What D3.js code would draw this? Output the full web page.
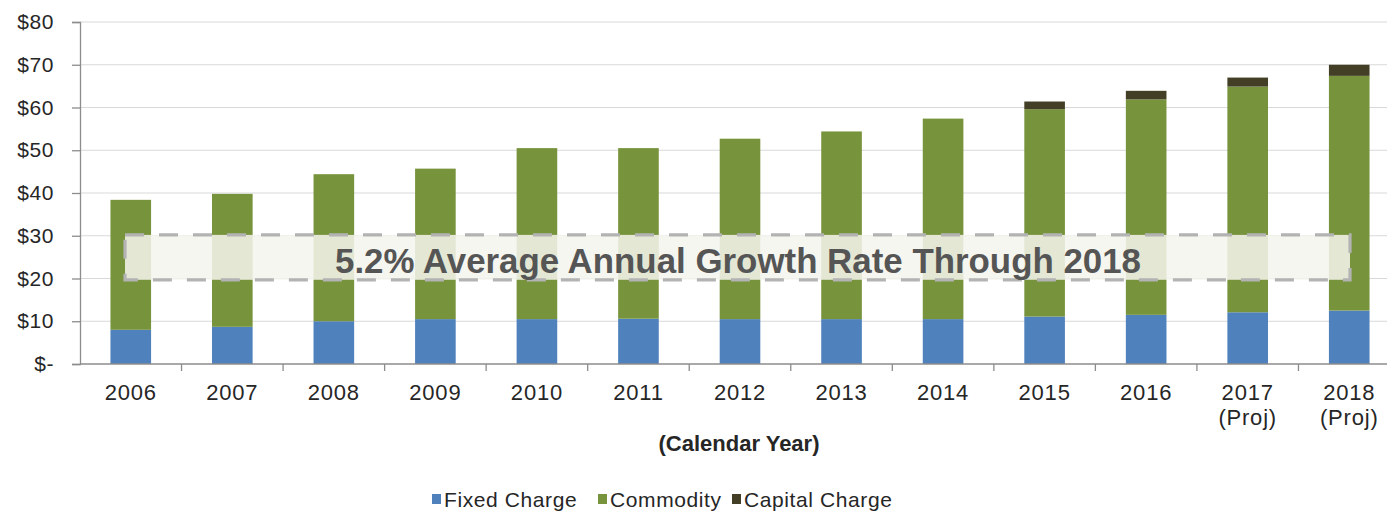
<!DOCTYPE html>
<html>
<head>
<meta charset="utf-8">
<script src="https://cdn.jsdelivr.net/npm/d3@7"></script>
<style>
  html, body { margin: 0; padding: 0; background: #fff; }
  svg { display: block; }
  text { font-family: "Liberation Sans", Arial, sans-serif; }
</style>
</head>
<body>
<svg id="chart" width="1387" height="514"></svg>
<script>
// Calendar years and the second label line used for projected years
const years = ["2006", "2007", "2008", "2009", "2010", "2011", "2012", "2013", "2014", "2015", "2016", "2017", "2018"];
const yearNotes = ["", "", "", "", "", "", "", "", "", "", "", "(Proj)", "(Proj)"];

// Series values ($)
const fixedCharge = [8.0, 8.7, 10.0, 10.5, 10.5, 10.6, 10.5, 10.5, 10.5, 11.1, 11.5, 12.1, 12.5];
const commodity = [30.4, 31.1, 34.4, 35.2, 40.0, 39.9, 42.2, 43.9, 46.9, 48.5, 50.4, 52.8, 54.9];
const capitalCharge = [0, 0, 0, 0, 0, 0, 0, 0, 0, 1.8, 2.0, 2.1, 2.6];

const seriesNames = ["Fixed Charge", "Commodity", "Capital Charge"];
const seriesColors = ["#4f81bd", "#77933c", "#433f27"];

const yTicks = [0, 10, 20, 30, 40, 50, 60, 70, 80];
const bannerText = "5.2% Average Annual Growth Rate Through 2018";
const axisTitle = "(Calendar Year)";

const svg = d3.select("#chart");

const rows = years.map((y, i) => ({
  year: y,
  "Fixed Charge": fixedCharge[i],
  "Commodity": commodity[i],
  "Capital Charge": capitalCharge[i]
}));
const stacked = d3.stack().keys(seriesNames)(rows);

const x = d3.scaleBand().domain(years).range([80, 1400]).paddingInner(0.6).paddingOuter(0.3);
const y = d3.scaleLinear().domain([0, 80]).range([364, 22]);

// Horizontal gridlines
svg.append("g")
  .selectAll("line")
  .data(yTicks.filter(d => d > 0))
  .join("line")
  .attr("x1", 80).attr("x2", 1387)
  .attr("y1", d => y(d)).attr("y2", d => y(d))
  .attr("stroke", "#d9d9d9").attr("stroke-width", 1.2);

// Stacked bars
svg.append("g")
  .selectAll("g")
  .data(stacked)
  .join("g")
  .attr("fill", (d, i) => seriesColors[i])
  .selectAll("rect")
  .data(d => d)
  .join("rect")
  .attr("x", d => x(d.data.year))
  .attr("width", x.bandwidth())
  .attr("y", d => y(d[1]))
  .attr("height", d => y(d[0]) - y(d[1]));

// Y axis
const yAxis = svg.append("g")
  .attr("transform", "translate(80,0)")
  .call(d3.axisLeft(y).tickValues(yTicks).tickSize(8).tickPadding(18)
    .tickFormat(d => d === 0 ? "$-" : "$" + d));
yAxis.select(".domain").attr("stroke", "#8c8c8c").attr("stroke-width", 1.3);
yAxis.selectAll(".tick line").attr("stroke", "#8c8c8c").attr("stroke-width", 1.3);
yAxis.selectAll(".tick text")
  .attr("fill", "#262626")
  .style("font-size", "21px")
  .style("letter-spacing", "0.6px");

// X axis: ticks at band boundaries
const boundaries = years.map(d => x(d) - x.step() * x.paddingInner() / 2);
const xAxisG = svg.append("g");
xAxisG.append("line")
  .attr("x1", 80).attr("x2", 1387)
  .attr("y1", y(0)).attr("y2", y(0))
  .attr("stroke", "#8c8c8c").attr("stroke-width", 1.3);
xAxisG.selectAll("line.tick")
  .data(boundaries.slice(1))
  .join("line")
  .attr("class", "tick")
  .attr("x1", d => d).attr("x2", d => d)
  .attr("y1", y(0)).attr("y2", y(0) + 7)
  .attr("stroke", "#8c8c8c").attr("stroke-width", 1.3);

xAxisG.selectAll("text.year")
  .data(years)
  .join("text")
  .attr("class", "year")
  .attr("x", d => x(d) + x.bandwidth() / 2)
  .attr("y", 400)
  .attr("text-anchor", "middle")
  .attr("fill", "#262626")
  .style("font-size", "22px")
  .style("letter-spacing", "0.8px")
  .text(d => d);

xAxisG.selectAll("text.note")
  .data(years.filter((d, i) => yearNotes[i]))
  .join("text")
  .attr("class", "note")
  .attr("x", d => x(d) + x.bandwidth() / 2)
  .attr("y", 425)
  .attr("text-anchor", "middle")
  .attr("fill", "#262626")
  .style("font-size", "22px")
  .style("letter-spacing", "0.8px")
  .text(d => yearNotes[years.indexOf(d)]);

svg.append("text")
  .attr("x", 739).attr("y", 451)
  .attr("text-anchor", "middle")
  .attr("fill", "#262626")
  .style("font-size", "22px")
  .style("font-weight", "bold")
  .text(axisTitle);

// Growth-rate banner across the bars
const bannerTop = y(30.2), bannerBottom = y(19.7);
svg.append("rect")
  .attr("x", 125).attr("y", bannerTop)
  .attr("width", 1225).attr("height", bannerBottom - bannerTop)
  .attr("fill", "#f4f5ee").attr("fill-opacity", 0.86)
  .attr("stroke", "#b3b3b3").attr("stroke-width", 3.2)
  .attr("stroke-dasharray", "19 15");

svg.append("text")
  .attr("x", 738).attr("y", 273)
  .attr("text-anchor", "middle")
  .attr("fill", "#555555")
  .style("font-size", "35px")
  .style("font-weight", "bold")
  .attr("textLength", 806)
  .attr("lengthAdjust", "spacingAndGlyphs")
  .text(bannerText);

// Legend
const legendItems = [
  { name: seriesNames[0], color: seriesColors[0], sx: 432, tx: 444 },
  { name: seriesNames[1], color: seriesColors[1], sx: 598, tx: 610 },
  { name: seriesNames[2], color: seriesColors[2], sx: 732, tx: 744 }
];
const legend = svg.append("g");
legend.selectAll("rect")
  .data(legendItems)
  .join("rect")
  .attr("x", d => d.sx).attr("y", 494)
  .attr("width", 9).attr("height", 10)
  .attr("fill", d => d.color);
legend.selectAll("text")
  .data(legendItems)
  .join("text")
  .attr("x", d => d.tx).attr("y", 507)
  .attr("fill", "#262626")
  .style("font-size", "21px")
  .style("letter-spacing", "0.6px")
  .text(d => d.name);
</script>
</body>
</html>
